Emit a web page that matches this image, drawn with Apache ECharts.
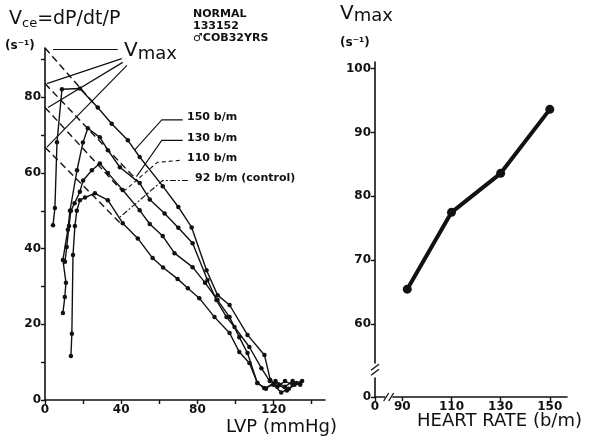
<!DOCTYPE html>
<html><head><meta charset="utf-8">
<script src="https://cdn.jsdelivr.net/npm/echarts@6/dist/echarts.min.js"></script>
<style>html,body{margin:0;padding:0;background:#fff}#c{width:591px;height:440px}</style>
</head><body><div id="c"></div>
<script>
// ---- Left panel: Vce vs LVP curves (LVP mmHg, Vce s^-1) ----
const curve150 = [[4.2,46.2],[5.2,50.7],[6.3,68.1],[8.9,82.1],[18.3,82.3],[27.7,77.3],[35,73],[43.5,68.6],[49.7,64.2],[61.8,56.5],[70,51],[77,45.6],[84.8,34.3],[90.6,27.7],[96.9,25.1],[106.3,17.2],[115.2,11.9],[118.3,5.3],[122,3.5],[126,5],[130,4],[134,4.5]];
const curve130 = [[9.4,23],[10.4,27.2],[11,31],[9.4,37],[12,45],[13.1,50],[16.8,60.7],[19.9,68],[22.5,71.8],[28.8,69.4],[33,66],[39.3,61.5],[49.7,57.3],[55,53],[62.8,49.3],[70,45.5],[77.5,41.4],[85.3,31.7],[90,26.4],[95.3,21.9],[99.5,19.3],[107.3,14],[113.6,8.4],[118,5],[123,4],[127,2.5],[131,4],[135,5]];
const curve110 = [[10.5,36.5],[11.4,40.4],[12.6,46],[13.6,50],[15.5,52],[18.3,55],[20,58],[24.6,60.7],[28.8,62.5],[33,60],[40.8,55.5],[49.7,50.1],[55,46.5],[61.8,43.3],[68,38.8],[77.5,35.1],[84,31],[90.6,26.4],[96.9,21.9],[102,16.6],[106.3,12.4],[111.5,4.5],[115,3.2],[120,4],[124,2],[128,3],[132,4.5]];
const curve92 = [[13.6,11.6],[14.1,17.5],[14.7,38.3],[15.7,46],[16.7,50],[18.3,52.8],[21,53.5],[26.2,54.6],[33,52.8],[40.8,46.7],[48.7,42.7],[56.5,37.5],[62,35],[69.6,32],[75,29.5],[81,26.9],[89,21.9],[96.9,17.7],[102,12.7],[107.3,9.8],[111.5,4.5],[116,3],[121,5],[126,3.5],[130,5],[134,4]];

// extrapolation lines to Vmax (dashed)
const extrap150 = [[0,93],[28,77]];
const extrap130 = [[0,83.6],[49.7,57.3]];
const extrap110 = [[0,77.3],[40,55.5]];
const extrap92  = [[0,66.8],[40,46.5]];

// pointer lines from the "Vmax" label to the intercepts
const ptr150 = [[4.2,92.6],[38.2,92.6]];
const ptr130 = [[40.3,90.2],[1,83.6]];
const ptr110 = [[40.8,89.2],[1.6,77.3]];
const ptr92  = [[43,88.4],[1,66.8]];

// leader lines from the heart-rate labels to the curves
const lead150 = [[72.3,74],[61.3,74],[47,66]];
const lead130 = [[72.3,68.6],[61.3,68.6],[48,59]];
const lead110 = [[70.7,63.3],[59,62.8],[42,55.4]];
const lead92  = [[75,58],[61.8,58],[39.3,48.3]];

const lvpTicks = [0,20,40,60,80,100,120,140];
const lvpLabels = [0,40,80,120];
const vceTicks = [0,10,20,30,40,50,60,70,80,90];
const vceLabels = [0,20,40,60,80];

// ---- Right panel: Vmax vs heart rate ----
const heartRate = [92,110,130,150];
const vmax = [65.5,77.5,83.6,93.6];
const hrTicks = [0,90,110,130,150];
const vmaxTicks = [0,60,70,80,90,100];

const FONT = 'DejaVu Sans';
const INK = '#111';

const chart = echarts.init(document.getElementById('c'), null, {renderer:'canvas'});

function axisCommon(){
  return {
    axisLine:{show:true,onZero:false,lineStyle:{color:INK,width:1.6}},
    splitLine:{show:false},
    axisLabel:{color:INK,fontFamily:FONT,fontWeight:'bold',fontSize:12,margin:4},
  };
}

function lineS(data, type, width, sym){
  return {
    type:'line', xAxisIndex:0, yAxisIndex:0, data:data, animation:false,
    symbol: sym ? 'circle' : 'none', symbolSize: sym ? 4.5 : 0,
    showSymbol: !!sym,
    lineStyle:{color:INK,width:width,type:type},
    itemStyle:{color:INK}, silent:true, z: sym ? 3 : 2
  };
}

const option = {
  backgroundColor:'#fff',
  animation:false,
  grid:[
    {left:45, top:48, width:280, height:352},
    {left:375, top:62, width:192, height:335}
  ],
  xAxis:[
    Object.assign(axisCommon(),{
      type:'value', gridIndex:0, min:0, max:147,
      axisTick:{show:true,length:4,lineStyle:{color:INK,width:1.4},customValues:lvpTicks},
      axisLabel:Object.assign(axisCommon().axisLabel,{customValues:lvpLabels})
    }),
    Object.assign(axisCommon(),{
      type:'value', gridIndex:1, min:0, max:157,
      breaks:[{start:4,end:86,gap:'4%'}],
      breakArea:{show:false},
      axisTick:{show:true,length:4,lineStyle:{color:INK,width:1.4},customValues:hrTicks},
      axisLabel:Object.assign(axisCommon().axisLabel,{customValues:hrTicks})
    })
  ],
  yAxis:[
    Object.assign(axisCommon(),{
      type:'value', gridIndex:0, min:0, max:93,
      axisTick:{show:true,length:4,lineStyle:{color:INK,width:1.4},customValues:vceTicks},
      axisLabel:Object.assign(axisCommon().axisLabel,{customValues:vceLabels})
    }),
    Object.assign(axisCommon(),{
      type:'value', gridIndex:1, min:0, max:101,
      breaks:[{start:3,end:54,gap:'4.5%'}],
      breakArea:{show:false},
      axisTick:{show:true,length:4,lineStyle:{color:INK,width:1.4},customValues:vmaxTicks},
      axisLabel:Object.assign(axisCommon().axisLabel,{customValues:vmaxTicks})
    })
  ],
  series:[
    lineS(curve150,'solid',1.4,true),
    lineS(curve130,'solid',1.4,true),
    lineS(curve110,'solid',1.4,true),
    lineS(curve92,'solid',1.4,true),
    lineS(extrap150,[7,4],1.4,false),
    lineS(extrap130,[7,4],1.4,false),
    lineS(extrap110,[7,4],1.4,false),
    lineS(extrap92,[7,4],1.4,false),
    lineS(ptr150,'solid',1.2,false),
    lineS(ptr130,'solid',1.2,false),
    lineS(ptr110,'solid',1.2,false),
    lineS(ptr92,'solid',1.2,false),
    lineS(lead150,'solid',1.1,false),
    lineS(lead130,'solid',1.1,false),
    lineS(lead110,[4,3],1.1,false),
    lineS(lead92,[6,2,2,2],1.1,false),
    {
      type:'line', xAxisIndex:1, yAxisIndex:1, animation:false,
      data: heartRate.map((h,i)=>[h,vmax[i]]),
      symbol:'circle', symbolSize:9,
      lineStyle:{color:INK,width:4}, itemStyle:{color:INK}, silent:true
    }
  ],
  graphic:[
    {type:'text', left:9, top:10, style:{
      text:'{v|V}{s|ce}{v|=dP/dt/P}', fill:INK,
      rich:{v:{fontSize:19,fontFamily:FONT,fill:INK},s:{fontSize:13,fontFamily:FONT,fill:INK,padding:[8,0,0,0]}}
    }},
    {type:'text', left:5, top:40, style:{text:'(s⁻¹)', fontSize:12, fontWeight:'bold', fontFamily:FONT, fill:INK}},
    {type:'text', left:124, top:41, style:{
      text:'{v|V}{s|max}', fill:INK,
      rich:{v:{fontSize:20,fontFamily:FONT,fill:INK},s:{fontSize:18,fontFamily:FONT,fill:INK,padding:[6,0,0,0]}}
    }},
    {type:'text', left:193, top:8, style:{text:'NORMAL\n133152\n♂COB32YRS', fontSize:11, lineHeight:12, fontWeight:'bold', fontFamily:FONT, fill:INK}},
    {type:'text', left:187, top:112, style:{text:'150 b/m', fontSize:11, fontWeight:'bold', fontFamily:FONT, fill:INK}},
    {type:'text', left:187, top:133, style:{text:'130 b/m', fontSize:11, fontWeight:'bold', fontFamily:FONT, fill:INK}},
    {type:'text', left:187, top:153, style:{text:'110 b/m', fontSize:11, fontWeight:'bold', fontFamily:FONT, fill:INK}},
    {type:'text', left:195, top:173, style:{text:'92 b/m (control)', fontSize:11, fontWeight:'bold', fontFamily:FONT, fill:INK}},
    {type:'text', left:226, top:418, style:{text:'LVP (mmHg)', fontSize:18, fontFamily:FONT, fill:INK}},
    {type:'text', left:340, top:4, style:{
      text:'{v|V}{s|max}', fill:INK,
      rich:{v:{fontSize:20,fontFamily:FONT,fill:INK},s:{fontSize:18,fontFamily:FONT,fill:INK,padding:[5,0,0,0]}}
    }},
    {type:'text', left:340, top:37, style:{text:'(s⁻¹)', fontSize:12, fontWeight:'bold', fontFamily:FONT, fill:INK}},
    {type:'text', left:417, top:412, style:{text:'HEART RATE (b/m)', fontSize:18, fontFamily:FONT, fill:INK}}
  ]
};
chart.setOption(option);

// break marks "//" on the right panel axes, placed through the axes' own scales
const yA = chart.convertToPixel({gridIndex:1},[0,3]);
const yB = chart.convertToPixel({gridIndex:1},[0,54]);
const xA = chart.convertToPixel({gridIndex:1},[4,0]);
const xB = chart.convertToPixel({gridIndex:1},[86,0]);
const marks = [];
if (yA && yB) {
  const cx = yA[0], cy = (yA[1]+yB[1])/2;
  marks.push({type:'rect', shape:{x:cx-4,y:cy-3,width:8,height:6}, style:{fill:'#fff'}, z:100});
  marks.push({type:'line', shape:{x1:cx-4,y1:cy,x2:cx+4,y2:cy-6}, style:{stroke:INK,lineWidth:1.3}, z:101});
  marks.push({type:'line', shape:{x1:cx-4,y1:cy+5,x2:cx+4,y2:cy-1}, style:{stroke:INK,lineWidth:1.3}, z:101});
}
if (xA && xB) {
  const cy = xA[1], cx = (xA[0]+xB[0])/2;
  marks.push({type:'rect', shape:{x:cx-3,y:cy-4,width:6,height:8}, style:{fill:'#fff'}, z:100});
  marks.push({type:'line', shape:{x1:cx-5,y1:cy+4,x2:cx,y2:cy-4}, style:{stroke:INK,lineWidth:1.3}, z:101});
  marks.push({type:'line', shape:{x1:cx,y1:cy+4,x2:cx+5,y2:cy-4}, style:{stroke:INK,lineWidth:1.3}, z:101});
}
chart.setOption({graphic: option.graphic.concat(marks)});
</script>
</body></html>
